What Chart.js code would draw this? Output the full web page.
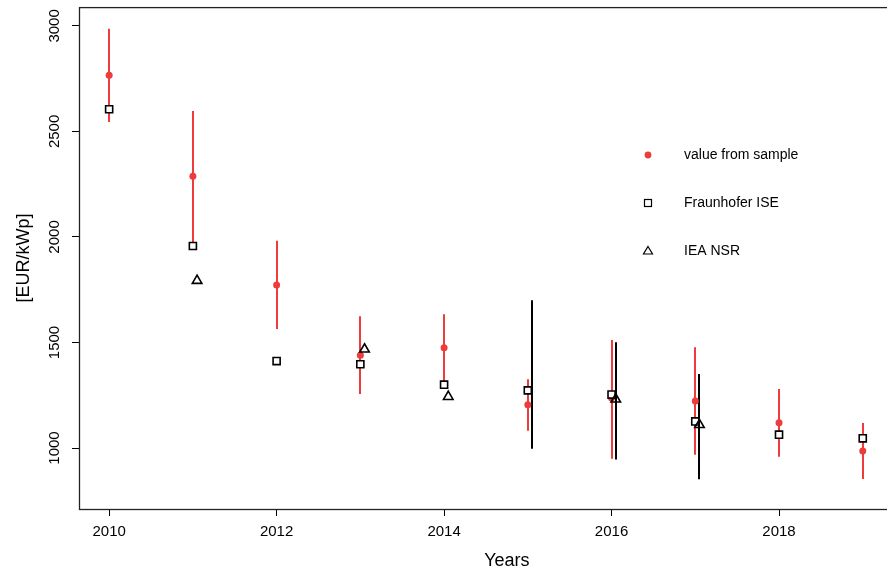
<!DOCTYPE html>
<html>
<head>
<meta charset="utf-8">
<script src="https://cdn.jsdelivr.net/npm/chart.js@4/dist/chart.umd.min.js"></script>
<style>
  html, body { margin: 0; padding: 0; background: #fff; overflow: hidden; }
  #wrap { width: 887px; height: 572px; overflow: hidden; }
</style>
</head>
<body>
<div id="wrap"><canvas id="chart" width="900" height="572"></canvas></div>
<script>
// data
const YEARS = [2010, 2011, 2012, 2013, 2014, 2015, 2016, 2017, 2018, 2019];
const SAMPLE = [2766, 2288, 1772, 1439, 1475, 1205, 1237, 1223, 1120, 986];
const SAMPLE_LOW = [2545, 1968, 1564, 1256, 1300, 1082, 949, 968, 959, 853];
const SAMPLE_HIGH = [2987, 2597, 1982, 1624, 1634, 1326, 1512, 1477, 1280, 1118];
const FRAUNHOFER = [2605, 1957, 1412, 1397, 1300, 1273, 1253, 1126, 1063, 1046];
const IEA_YEARS = [2011, 2013, 2014, 2015, 2016, 2017];
const IEA = [1793, 1468, 1243, null, 1231, 1110];
const IEA_LOW = [null, null, null, 997, 946, 852];
const IEA_HIGH = [null, null, null, 1700, 1501, 1351];
const X_TICKS = [2010, 2012, 2014, 2016, 2018];
const Y_TICKS = [1000, 1500, 2000, 2500, 3000];
const LEGEND = ['value from sample', 'Fraunhofer ISE', 'IEA NSR'];

const IEA_SHIFT = 0.05;
const RED = '#EE3B3B';
const FONT = '"Liberation Sans", Arial, Helvetica, sans-serif';

function pts(xs, ys, dx) {
    return xs.map((x, i) => ({ x: x + (dx || 0), y: ys[i] })).filter(p => p.y !== null);
}

// error bars, box, labels and legend
const decor = {
    id: 'decor',
    beforeDatasetsDraw(chart) {
        const { ctx, scales: { x, y } } = chart;
        ctx.save();
        ctx.lineWidth = 2;
        ctx.strokeStyle = RED;
        YEARS.forEach((yr, i) => {
            const px = Math.round(x.getPixelForValue(yr));
            ctx.beginPath();
            ctx.moveTo(px, y.getPixelForValue(SAMPLE_LOW[i]));
            ctx.lineTo(px, y.getPixelForValue(SAMPLE_HIGH[i]));
            ctx.stroke();
        });
        ctx.strokeStyle = '#000';
        IEA_YEARS.forEach((yr, i) => {
            if (IEA_LOW[i] === null) return;
            const px = Math.round(x.getPixelForValue(yr + IEA_SHIFT));
            ctx.beginPath();
            ctx.moveTo(px, y.getPixelForValue(IEA_LOW[i]));
            ctx.lineTo(px, y.getPixelForValue(IEA_HIGH[i]));
            ctx.stroke();
        });
        ctx.restore();
    },
    afterDraw(chart) {
        const { ctx, chartArea: a, scales: { x, y } } = chart;
        ctx.save();
        // box
        ctx.strokeStyle = '#222';
        ctx.lineWidth = 1.3;
        ctx.strokeRect(a.left + 0.5, a.top + 0.5, a.right - a.left, a.bottom - a.top);

        ctx.fillStyle = '#000';
        ctx.font = '15px ' + FONT;
        ctx.textAlign = 'center';
        ctx.textBaseline = 'middle';
        X_TICKS.forEach(v => ctx.fillText(String(v), x.getPixelForValue(v), 532));
        Y_TICKS.forEach(v => {
            ctx.save();
            ctx.translate(55, y.getPixelForValue(v));
            ctx.rotate(-Math.PI / 2);
            ctx.fillText(String(v), 0, 0);
            ctx.restore();
        });

        // axis titles
        ctx.font = '18px ' + FONT;
        ctx.fillText('Years', x.getPixelForValue(2014.75), 561);
        ctx.save();
        ctx.translate(24, (a.top + a.bottom) / 2);
        ctx.rotate(-Math.PI / 2);
        ctx.fillText('[EUR/kWp]', 0, 0);
        ctx.restore();

        // legend
        const lx = 648, tx = 684, rows = [155, 203, 251];
        ctx.font = '14px ' + FONT;
        ctx.textAlign = 'left';
        LEGEND.forEach((t, i) => ctx.fillText(t, tx, rows[i]));
        ctx.fillStyle = RED;
        ctx.beginPath();
        ctx.arc(lx, rows[0], 3.4, 0, Math.PI * 2);
        ctx.fill();
        ctx.strokeStyle = '#000';
        ctx.lineWidth = 1.2;
        ctx.strokeRect(lx - 3.5, rows[1] - 3.5, 7, 7);
        ctx.beginPath();
        ctx.moveTo(lx, rows[2] - 4.5);
        ctx.lineTo(lx + 4.5, rows[2] + 3);
        ctx.lineTo(lx - 4.5, rows[2] + 3);
        ctx.closePath();
        ctx.stroke();
        ctx.restore();
    }
};

new Chart(document.getElementById('chart'), {
    type: 'scatter',
    data: {
        datasets: [
            {
                label: 'IEA NSR',
                data: pts(IEA_YEARS, IEA, IEA_SHIFT),
                pointStyle: 'triangle',
                pointRadius: 5.5,
                borderColor: '#000',
                backgroundColor: 'rgba(0,0,0,0)',
                borderWidth: 1.6,
                order: 1
            },
            {
                label: 'Fraunhofer ISE',
                data: pts(YEARS, FRAUNHOFER),
                pointStyle: 'rect',
                pointRadius: 5,
                borderColor: '#000',
                backgroundColor: '#fff',
                borderWidth: 1.6,
                order: 2
            },
            {
                label: 'value from sample',
                data: pts(YEARS, SAMPLE),
                pointStyle: 'circle',
                pointRadius: 3.5,
                borderColor: RED,
                backgroundColor: RED,
                borderWidth: 0,
                order: 3
            }
        ]
    },
    options: {
        responsive: false,
        devicePixelRatio: 1,
        animation: false,
        layout: { padding: { top: 7, right: 6, left: 0, bottom: 0 } },
        plugins: { legend: { display: false }, tooltip: { enabled: false } },
        scales: {
            x: {
                type: 'linear',
                min: 2009.64,
                max: 2019.36,
                afterBuildTicks: s => { s.ticks = X_TICKS.map(v => ({ value: v })); },
                afterFit: s => { s.height = 63; },
                ticks: { display: false },
                border: { display: false },
                grid: { drawOnChartArea: false, drawTicks: true, tickLength: 7, color: '#000', lineWidth: 1 }
            },
            y: {
                type: 'linear',
                min: 711,
                max: 3089,
                afterBuildTicks: s => { s.ticks = Y_TICKS.map(v => ({ value: v })); },
                afterFit: s => { s.width = 79; },
                ticks: { display: false },
                border: { display: false },
                grid: { drawOnChartArea: false, drawTicks: true, tickLength: 7, color: '#000', lineWidth: 1 }
            }
        }
    },
    plugins: [decor]
});
</script>
</body>
</html>
